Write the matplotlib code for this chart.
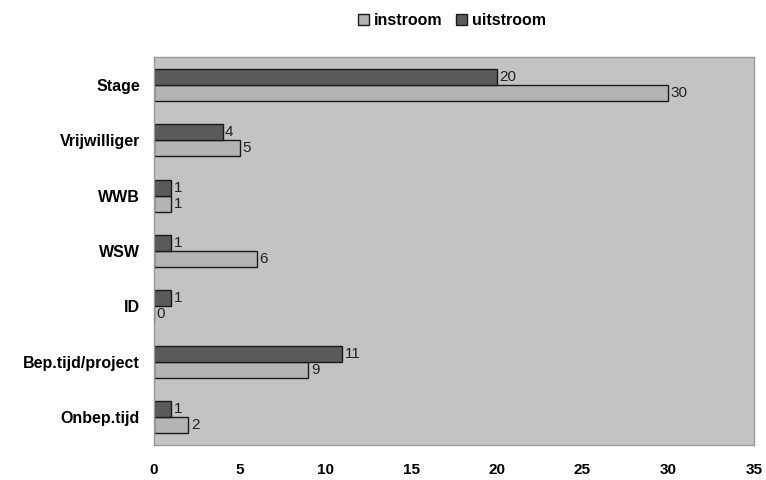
import matplotlib.pyplot as plt
import numpy as np

# Data
categories = ['Stage', 'Vrijwilliger', 'WWB', 'WSW', 'ID', 'Bep.tijd/project', 'Onbep.tijd']
instroom = [30, 5, 1, 6, 0, 9, 2]
uitstroom = [20, 4, 1, 1, 1, 11, 1]
xticks = [0, 5, 10, 15, 20, 25, 30, 35]

plt.rcParams['font.family'] = ['Liberation Sans', 'DejaVu Sans']

fig = plt.figure(figsize=(7.66, 4.8), dpi=100)
ax = fig.add_axes([0.201, 0.073, 0.783, 0.808])
ax.set_facecolor('#c3c3c3')

y = np.arange(len(categories))
h = 0.29

b_in = ax.barh(y + h / 2, instroom, height=h, color='#b4b4b4', edgecolor='#1a1a1a', linewidth=1.0, label='instroom')
b_uit = ax.barh(y - h / 2, uitstroom, height=h, color='#5a5a5a', edgecolor='#1a1a1a', linewidth=1.0, label='uitstroom')

for bars, vals in ((b_in, instroom), (b_uit, uitstroom)):
    for bar, v in zip(bars, vals):
        ax.text(v + 0.15, bar.get_y() + bar.get_height() / 2, str(v),
                va='center', ha='left', fontsize=11, color='#222222')

ax.set_ylim(len(categories) - 0.5, -0.5)
ax.set_xlim(0, 35)
ax.set_yticks(y)
ax.set_yticklabels(categories, fontsize=11.5, fontweight='bold')
ax.set_xticks(xticks)
ax.set_xticklabels([str(t) for t in xticks], fontsize=11, fontweight='bold')
ax.tick_params(length=0, pad=10)
ax.tick_params(axis='x', pad=13)
for s in ax.spines.values():
    s.set_color('#999999')
    s.set_linewidth(1.0)

fig.legend(handles=[b_in, b_uit], loc='center', bbox_to_anchor=(0.59, 0.957), ncol=2,
           frameon=False, prop={'weight': 'bold', 'size': 11.5}, handlelength=0.7,
           handleheight=0.7, handletextpad=0.3, columnspacing=0.8)

fig.savefig('out.png', dpi=100, facecolor='white')
